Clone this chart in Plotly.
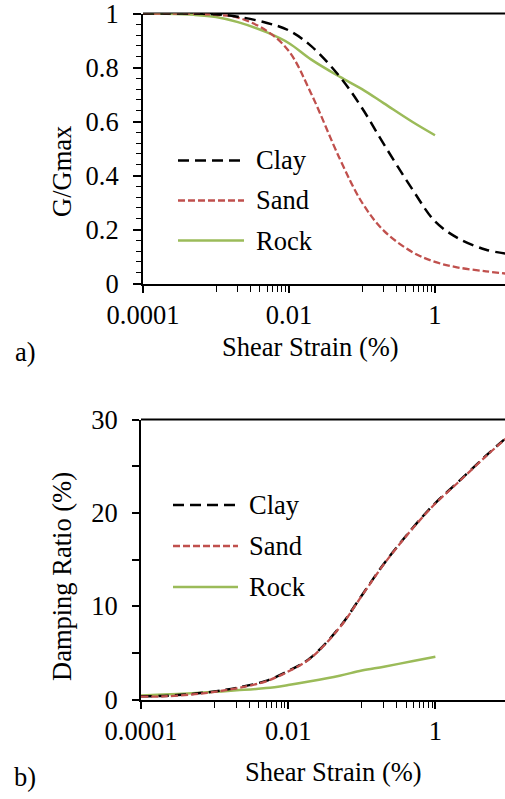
import plotly.graph_objects as go

# ---- data: modulus reduction (panel a) ----
strain = [0.0001, 0.0002, 0.0005, 0.001, 0.002, 0.005, 0.01, 0.02, 0.05,
          0.1, 0.2, 0.5, 1, 2, 5, 10]
g_clay = [1.0, 1.0, 1.0, 0.997, 0.988, 0.965, 0.937, 0.88, 0.765,
          0.65, 0.515, 0.345, 0.23, 0.17, 0.125, 0.11]
g_sand = [1.0, 1.0, 0.999, 0.995, 0.985, 0.935, 0.86, 0.705, 0.46,
          0.30, 0.195, 0.115, 0.08, 0.06, 0.045, 0.036]

strain_rock = [0.0001, 0.0002, 0.0005, 0.001, 0.002, 0.005, 0.01, 0.02, 0.05,
               0.1, 0.2, 0.5, 1]
g_rock = [1.0, 0.999, 0.995, 0.987, 0.968, 0.93, 0.89, 0.83, 0.765,
          0.72, 0.667, 0.597, 0.549]

# ---- data: damping ratio in % (panel b) ----
d_clay = [0.35, 0.38, 0.6, 0.87, 1.25, 2.0, 3.05, 4.45, 7.75,
          11.15, 14.55, 18.45, 21.05, 23.25, 26.2, 28.3]
d_sand = [0.3, 0.33, 0.55, 0.82, 1.2, 1.95, 3.0, 4.4, 7.7,
          11.1, 14.5, 18.4, 21.0, 23.2, 26.15, 28.25]
d_rock = [0.43, 0.53, 0.68, 0.82, 0.98, 1.22, 1.55, 1.95, 2.55,
          3.1, 3.52, 4.12, 4.57]

series_names = ["Clay", "Sand", "Rock"]

# ---- styling ----
W, H = 505, 799
FONT = "Liberation Serif, Times New Roman, serif"
FSIZE = 26.5
BLACK = "#000000"
RED = "#C0504D"
GREEN = "#9BBB59"
styles = {
    "Clay": dict(color=BLACK, width=2.5, dash="11px,6px"),
    "Sand": dict(color=RED, width=2.3, dash="7px,3px"),
    "Rock": dict(color=GREEN, width=2.5, dash="solid"),
}


def px_x(p):
    return p / W


def px_y(p):
    return 1 - p / H


fig = go.Figure()

top_sets = {
    "Clay": (strain, g_clay),
    "Sand": (strain, g_sand),
    "Rock": (strain_rock, g_rock),
}
bot_sets = {
    "Clay": (strain, d_clay),
    "Sand": (strain, d_sand),
    "Rock": (strain_rock, d_rock),
}

for name in ["Rock", "Sand", "Clay"]:
    x, y = top_sets[name]
    fig.add_trace(go.Scatter(x=x, y=y, mode="lines", name=name, showlegend=False,
                             line=dict(shape="spline", smoothing=1.0, **styles[name]),
                             xaxis="x", yaxis="y"))
# damping: sand drawn over clay
for name in ["Rock", "Clay", "Sand"]:
    x, y = bot_sets[name]
    fig.add_trace(go.Scatter(x=x, y=y, mode="lines", name=name, showlegend=False,
                             line=dict(shape="spline", smoothing=1.0, **styles[name]),
                             xaxis="x2", yaxis="y2"))

x_major = [0.0001, 0.01, 1]
x_major_text = ["0.0001", "0.01", "1"]
x_minor = [k * 10.0 ** e for e in (-3, -1) for k in range(1, 10)]

tickfont = dict(family=FONT, size=FSIZE, color=BLACK)


def xaxis_cfg(domain_left, rng_right, anchor):
    return dict(
        type="log", range=[-4, rng_right], domain=[domain_left, 1], anchor=anchor,
        automargin=False, ticklabeloverflow="allow",
        showline=True, linecolor=BLACK, linewidth=2, showgrid=False, zeroline=False,
        tickmode="array", tickvals=x_major, ticktext=x_major_text,
        ticks="outside", ticklen=7, tickwidth=1.5, tickcolor=BLACK,
        minor=dict(tickmode="array", tickvals=x_minor, ticks="outside",
                   ticklen=6, tickwidth=1.2, tickcolor=BLACK, showgrid=False),
        tickfont=tickfont, ticklabelstandoff=0,
    )


top_dom = [px_y(283.5), px_y(13.5)]
bot_dom = [px_y(699.5), px_y(419.5)]

fig.update_layout(
    width=W, height=H,
    margin=dict(l=0, r=0, t=0, b=0, pad=0),
    paper_bgcolor="white", plot_bgcolor="white",
    font=dict(family=FONT, color=BLACK),
    xaxis=xaxis_cfg(px_x(143), 0.959, "y"),
    yaxis=dict(
        range=[0, 1], domain=top_dom, anchor="x", automargin=False,
        ticklabeloverflow="allow",
        showline=True, linecolor=BLACK, linewidth=2, showgrid=False, zeroline=False,
        tickmode="array", tickvals=[0, 0.2, 0.4, 0.6, 0.8, 1],
        ticktext=["0", "0.2", "0.4", "0.6", "0.8", "1"],
        ticks="outside", ticklen=8, tickwidth=1.5, tickcolor=BLACK,
        minor=dict(dtick=0.04, ticks="outside", ticklen=5, tickwidth=1.2,
                   tickcolor=BLACK, showgrid=False),
        tickfont=tickfont, ticklabelstandoff=9,
    ),
    xaxis2=xaxis_cfg(px_x(141), 0.946, "y2"),
    yaxis2=dict(
        range=[0, 30], domain=bot_dom, anchor="x2", automargin=False,
        ticklabeloverflow="allow",
        showline=True, linecolor=BLACK, linewidth=2, showgrid=False, zeroline=False,
        tickmode="array", tickvals=[0, 5, 10, 15, 20, 25, 30],
        ticktext=["0", "", "10", "", "20", "", "30"],
        ticks="outside", ticklen=7, tickwidth=1.5, tickcolor=BLACK,
        tickfont=tickfont, ticklabelstandoff=9,
    ),
)

shapes = [
    # upper borders of both plot areas
    dict(type="line", xref="paper", yref="paper", x0=px_x(143), x1=1,
         y0=top_dom[1], y1=top_dom[1], line=dict(color=BLACK, width=2), layer="below"),
    dict(type="line", xref="paper", yref="paper", x0=px_x(141), x1=1,
         y0=bot_dom[1], y1=bot_dom[1], line=dict(color=BLACK, width=2), layer="below"),
]
annotations = []

# in-plot legends: sample line + label for each series
legend_rows = [
    (178, 244, 254, [160.5, 200.5, 240.5]),
    (173, 238, 247, [505, 546, 587]),
]
for x0, x1, xt, ys in legend_rows:
    for name, yy in zip(series_names, ys):
        shapes.append(dict(type="line", xref="paper", yref="paper",
                           x0=px_x(x0), x1=px_x(x1), y0=px_y(yy), y1=px_y(yy),
                           line=styles[name]))
        annotations.append(dict(text=name, xref="paper", yref="paper",
                                x=px_x(xt), y=px_y(yy), xanchor="left", yanchor="middle",
                                showarrow=False, font=dict(family=FONT, size=FSIZE, color=BLACK)))

# axis titles and panel labels
title_font = dict(family=FONT, size=FSIZE, color=BLACK)
annotations += [
    dict(text="G/Gmax", x=px_x(62), y=px_y(172), textangle=-90),
    dict(text="Shear Strain (%)", x=px_x(310), y=px_y(347)),
    dict(text="Damping Ratio (%)", x=px_x(62), y=px_y(577), textangle=-90),
    dict(text="Shear Strain (%)", x=px_x(333), y=px_y(772)),
    dict(text="a)", x=px_x(25), y=px_y(352)),
    dict(text="b)", x=px_x(25), y=px_y(777)),
]
for a in annotations[-6:]:
    a.update(xref="paper", yref="paper", xanchor="center", yanchor="middle",
             showarrow=False, font=title_font)

fig.update_layout(shapes=shapes, annotations=annotations)
fig.write_html("out.html")
